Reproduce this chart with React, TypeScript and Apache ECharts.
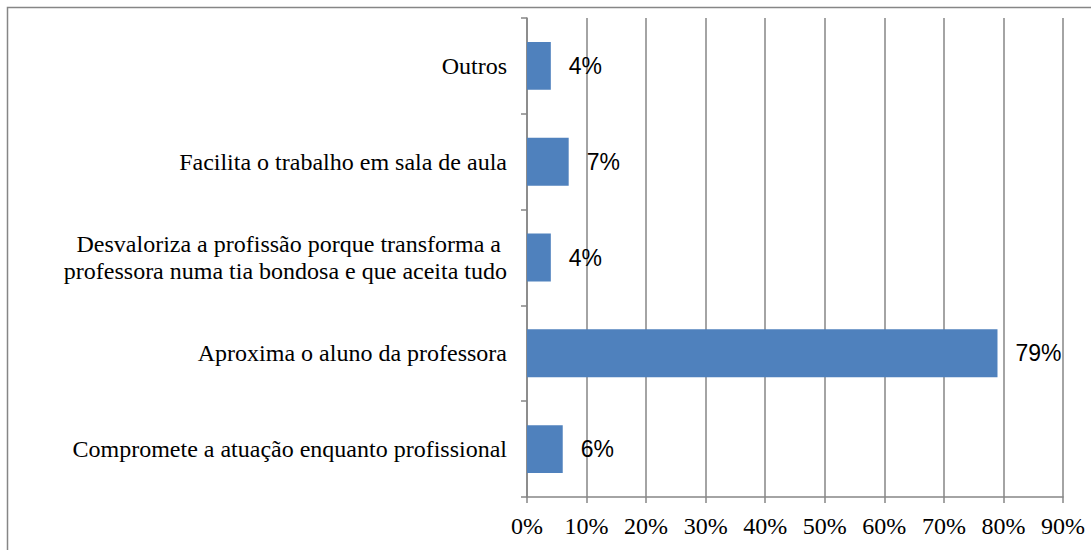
import React, { useEffect, useRef } from "react";
import * as echarts from "echarts";

const categories = [
  "Compromete a atuação enquanto profissional",
  "Aproxima o aluno da professora",
  "Desvaloriza a profissão porque transforma a \nprofessora numa tia bondosa e que aceita tudo",
  "Facilita o trabalho em sala de aula",
  "Outros",
];
const values = [6, 79, 4, 7, 4];
const xTicks = [0, 10, 20, 30, 40, 50, 60, 70, 80, 90];

export default function App() {
  const ref = useRef<HTMLDivElement>(null);
  useEffect(() => {
    if (!ref.current) return;
    const chart = echarts.init(ref.current, null, { renderer: "svg" });
    chart.setOption({
      animation: false,
      backgroundColor: "#ffffff",
      graphic: [
        {
          type: "rect",
          shape: { x: 7.5, y: 7.5, width: 1100, height: 560 },
          style: { fill: "none", stroke: "#868686", lineWidth: 1.5 },
          silent: true,
        },
      ],
      grid: { left: 527, right: 28, top: 18, bottom: 53, containLabel: false },
      xAxis: {
        type: "value",
        min: xTicks[0],
        max: xTicks[xTicks.length - 1],
        interval: 10,
        axisLine: { show: true, lineStyle: { color: "#868686", width: 1.5 } },
        axisTick: { show: true, length: 6, lineStyle: { color: "#868686", width: 1.5 } },
        splitLine: { show: true, lineStyle: { color: "#868686", width: 1.5 } },
        axisLabel: {
          margin: 17,
          formatter: "{value}%",
          fontFamily: "Liberation Serif",
          fontSize: 24,
          color: "#000",
        },
      },
      yAxis: {
        type: "category",
        data: categories,
        axisLine: { show: true, lineStyle: { color: "#868686", width: 1.5 } },
        axisTick: { show: true, length: 6, lineStyle: { color: "#868686", width: 1.5 } },
        axisLabel: {
          margin: 20,
          fontFamily: "Liberation Serif",
          fontSize: 24,
          lineHeight: 27,
          color: "#000",
          align: "right",
        },
      },
      series: [
        {
          type: "bar",
          data: values,
          barCategoryGap: "50%",
          itemStyle: { color: "#4f81bd" },
          label: {
            show: true,
            position: "right",
            distance: 18,
            formatter: "{c}%",
            fontFamily: "Liberation Sans",
            fontSize: 23,
            color: "#000",
          },
        },
      ],
    });
    return () => chart.dispose();
  }, []);
  return (
    <div
      ref={ref}
      style={{ position: "absolute", left: 0, top: 0, width: 1091, height: 550 }}
    />
  );
}
